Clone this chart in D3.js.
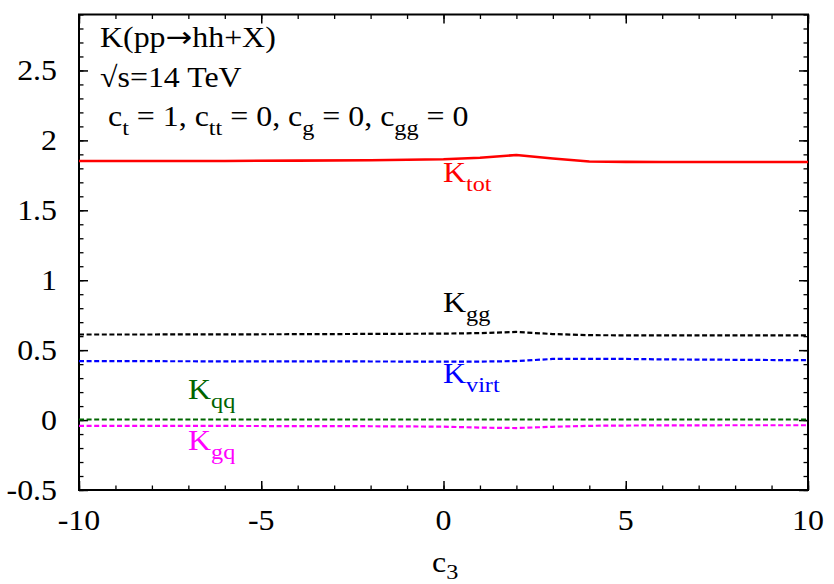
<!DOCTYPE html>
<html>
<head>
<meta charset="utf-8">
<script src="https://cdn.jsdelivr.net/npm/d3@7"></script>
<style>
  body { margin: 0; background: #fff; }
  text { font-family: "Liberation Serif", "Times New Roman", "DejaVu Serif", serif; }
</style>
</head>
<body>
<div id="chart"></div>
<script>
// c3 values (x) shared by all curves
const c3Values = [-10, -8, -6, -4, -2, 0, 1, 2, 3, 4, 5, 6, 8, 10];

const kTot  = [1.852, 1.852, 1.853, 1.855, 1.858, 1.865, 1.876, 1.895, 1.870, 1.849, 1.846, 1.845, 1.845, 1.845];
const kGg   = [0.612, 0.612, 0.613, 0.614, 0.616, 0.618, 0.622, 0.630, 0.615, 0.607, 0.606, 0.605, 0.605, 0.605];
const kVirt = [0.421, 0.421, 0.420, 0.420, 0.419, 0.418, 0.418, 0.422, 0.437, 0.438, 0.437, 0.434, 0.431, 0.428];
const kQq   = [0.004, 0.004, 0.004, 0.004, 0.004, 0.004, 0.004, 0.004, 0.004, 0.004, 0.004, 0.004, 0.004, 0.004];
const kGq   = [-0.042, -0.042, -0.042, -0.043, -0.044, -0.047, -0.054, -0.057, -0.048, -0.041, -0.039, -0.038, -0.037, -0.037];

const xTicks = [-10, -5, 0, 5, 10];
const yTicks = [-0.5, 0, 0.5, 1, 1.5, 2, 2.5];

function draw() {
    const dimensions = {
        width: 834,
        height: 584,
        left: 79,
        right: 808,
        top: 14.5,
        bottom: 490
    }
    const fontMain = 29
    const fontSub = 22
    const stretch = 1.1 // reference glyphs are a bit wider than Liberation Serif

    const xScale = d3.scaleLinear()
        .domain([-10, 10])
        .range([dimensions.left, dimensions.right])

    const yScale = d3.scaleLinear()
        .domain([-0.5, 2.9])
        .range([dimensions.bottom, dimensions.top])

    const svg = d3.select('#chart')
        .append('svg')
        .attr('width', dimensions.width)
        .attr('height', dimensions.height)

    const minorX = d3.range(-10, 10.01, 1)
    const minorY = d3.range(-0.5, 2.91, 0.1).map(v => Math.round(v * 10) / 10)

    const sides = [
        { make: () => d3.axisBottom(xScale), pos: `translate(0,${dimensions.bottom})`, major: xTicks, minor: minorX },
        { make: () => d3.axisTop(xScale), pos: `translate(0,${dimensions.top})`, major: xTicks, minor: minorX },
        { make: () => d3.axisLeft(yScale), pos: `translate(${dimensions.left},0)`, major: yTicks, minor: minorY },
        { make: () => d3.axisRight(yScale), pos: `translate(${dimensions.right},0)`, major: yTicks, minor: minorY }
    ]

    // ticks on all four sides, pointing inward
    sides.forEach(s => {
        const gMinor = svg.append('g')
            .attr('transform', s.pos)
            .call(s.make().tickValues(s.minor).tickSizeInner(-4.5).tickSizeOuter(0).tickFormat(''))
        gMinor.select('.domain').remove()
        gMinor.selectAll('line').attr('stroke', '#000').attr('stroke-width', 1.3)

        const gMajor = svg.append('g')
            .attr('transform', s.pos)
            .call(s.make().tickValues(s.major).tickSizeInner(-9).tickSizeOuter(0).tickFormat(''))
        gMajor.select('.domain').remove()
        gMajor.selectAll('line').attr('stroke', '#000').attr('stroke-width', 1.5)
    })

    // tick labels (drawn by hand so they can be stretched like the reference)
    const stretchedText = (x, y, str, anchor) => svg.append('text')
        .attr('transform', `translate(${x},${y}) scale(${stretch},1)`)
        .attr('text-anchor', anchor)
        .style('font-size', fontMain + 'px')
        .attr('fill', '#000')
        .text(str)

    xTicks.forEach(t => stretchedText(xScale(t), 530, t, 'middle'))
    yTicks.forEach(t => stretchedText(57, yScale(t) + 10, t, 'end'))

    // frame
    svg.append('rect')
        .attr('x', dimensions.left)
        .attr('y', dimensions.top)
        .attr('width', dimensions.right - dimensions.left)
        .attr('height', dimensions.bottom - dimensions.top)
        .attr('fill', 'none')
        .attr('stroke', '#000')
        .attr('stroke-width', 2)

    const line = d3.line()
        .x(d => xScale(d[0]))
        .y(d => yScale(d[1]))

    const series = [
        { values: kTot, color: '#ff0000', dash: null, width: 2.6 },
        { values: kGg, color: '#000000', dash: '5,2.6', width: 2.2 },
        { values: kVirt, color: '#0000ff', dash: '5,2.6', width: 2.2 },
        { values: kQq, color: '#006400', dash: '5,2.6', width: 2.2 },
        { values: kGq, color: '#ff00ff', dash: '5,2.6', width: 2.2 }
    ]

    series.forEach(s => {
        svg.append('path')
            .datum(c3Values.map((c, i) => [c, s.values[i]]))
            .attr('d', line)
            .attr('fill', 'none')
            .attr('stroke', s.color)
            .attr('stroke-width', s.width)
            .attr('stroke-dasharray', s.dash)
    })

    // text made of pieces: [text, isSubscript, fontFamily]
    const richText = (x, y, pieces, color, drop = 9) => {
        const t = svg.append('text')
            .attr('transform', `translate(${x},${y}) scale(${stretch},1)`)
            .attr('fill', color)
            .style('font-size', fontMain + 'px')
        let low = false
        pieces.forEach(p => {
            const sub = p[1]
            const span = t.append('tspan').text(p[0])
            if (sub && !low) span.attr('dy', drop)
            if (!sub && low) span.attr('dy', -drop)
            if (sub) span.style('font-size', fontSub + 'px')
            if (p[2]) span.style('font-family', p[2])
            low = sub
        })
        return t
    }

    richText(443, 182, [['K', 0], ['tot', 1]], '#ff0000')
    richText(443, 312, [['K', 0], ['gg', 1]], '#000000')
    richText(443, 383, [['K', 0], ['virt', 1]], '#0000ff')
    richText(188, 399, [['K', 0], ['qq', 1]], '#006400')
    richText(188, 450, [['K', 0], ['gq', 1]], '#ff00ff')

    // info text
    richText(100, 47, [['K(pp', 0], ['\u2192', 0, '"DejaVu Sans", sans-serif'], ['hh+X)', 0]], '#000')
    richText(100, 87, [['\u221As=14 TeV', 0]], '#000')
    richText(108, 126, [
        ['c', 0], ['t', 1], [' = 1, c', 0], ['tt', 1], [' = 0, c', 0], ['g', 1], [' = 0, c', 0], ['gg', 1], [' = 0', 0]
    ], '#000')

    // x axis title
    richText(432, 572, [['c', 0], ['3', 1]], '#000', 7)
}

draw()
</script>
</body>
</html>
